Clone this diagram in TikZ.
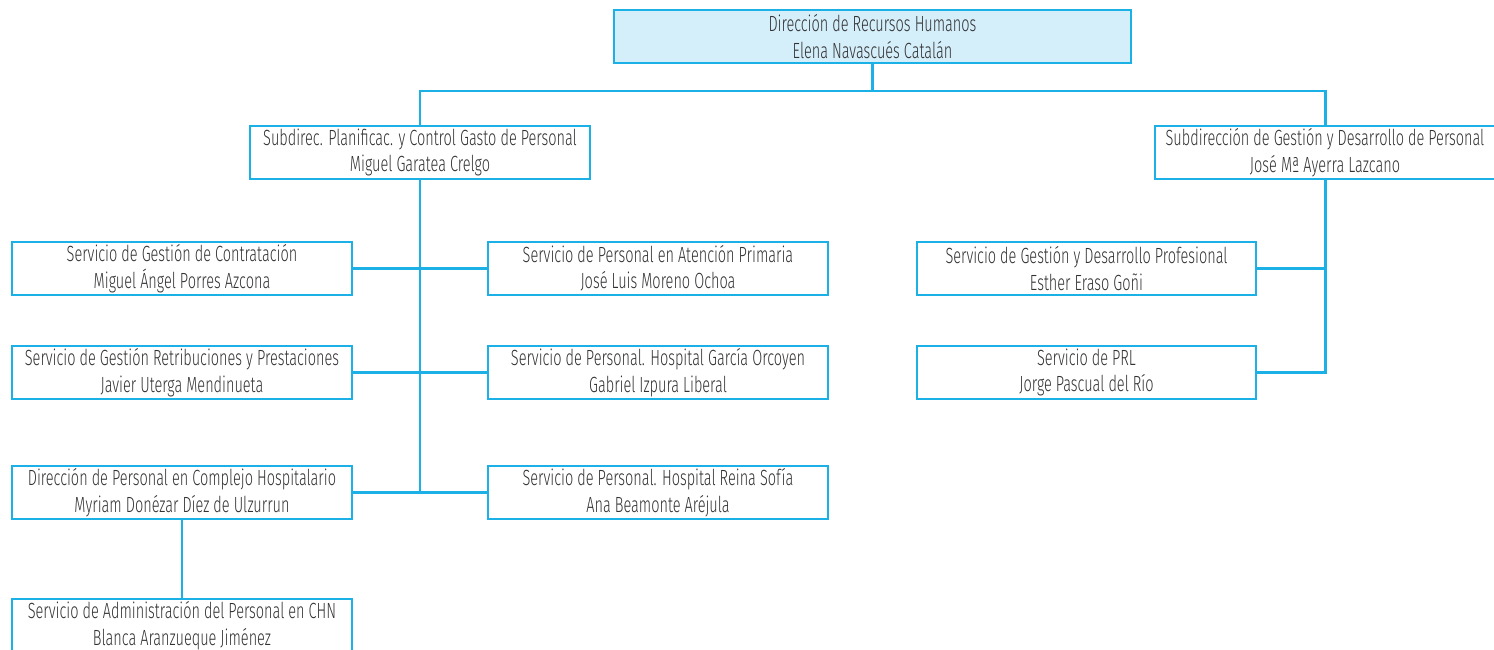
\documentclass[tikz,border=0pt]{standalone}
\usepackage{fontspec}
\setmainfont{Fira Sans Light}[FakeStretch=0.66]
\definecolor{hrblue}{RGB}{27,177,231}
\definecolor{hrfill}{RGB}{212,238,250}
\definecolor{hrtext}{RGB}{50,50,50}
\tikzset{
	unit/.style={draw=hrblue, line width=1.1pt, minimum width=6.8cm, minimum height=1.06cm, inner sep=0pt, align=center, text=hrtext, font=\fontsize{12.5}{15}\selectfont},
	link/.style={draw=hrblue, line width=1.7pt}
}
\begin{document}
\begin{tikzpicture}[x=0.02cm,y=-0.02cm]
	\useasboundingbox (0,0) rectangle (1494,649);
	\node[unit, fill=hrfill, minimum width=10.34cm] (dir) at (872.5,36.5) {Dirección de Recursos Humanos\\Elena Navascués Catalán};
	\coordinate (bus) at (872.5,91);
	\node[unit] (plan) at (420,152.5) {Subdirec. Planificac. y Control Gasto de Personal\\Miguel Garatea Crelgo};
	\node[unit] (gest) at (1325,152.5) {Subdirección de Gestión y Desarrollo de Personal\\José Mª Ayerra Lazcano};
	\node[unit] (cont) at (182,268.5) {Servicio de Gestión de Contratación\\Miguel Ángel Porres Azcona};
	\node[unit] (retr) at (182,372.5) {Servicio de Gestión Retribuciones y Prestaciones\\Javier Uterga Mendinueta};
	\node[unit] (chc) at (182,492.5) {Dirección de Personal en Complejo Hospitalario\\Myriam Donézar Díez de Ulzurrun};
	\node[unit] (chn) at (182,625.5) {Servicio de Administración del Personal en CHN\\Blanca Aranzueque Jiménez};
	\node[unit] (aprim) at (658,268.5) {Servicio de Personal en Atención Primaria\\José Luis Moreno Ochoa};
	\node[unit] (orco) at (658,372.5) {Servicio de Personal. Hospital García Orcoyen\\Gabriel Izpura Liberal};
	\node[unit] (sofia) at (658,492.5) {Servicio de Personal. Hospital Reina Sofía\\Ana Beamonte Aréjula};
	\node[unit, minimum width=6.78cm] (gdp) at (1086.5,268.5) {Servicio de Gestión y Desarrollo Profesional\\Esther Eraso Goñi};
	\node[unit, minimum width=6.78cm] (prl) at (1086.5,372.5) {Servicio de PRL\\Jorge Pascual del Río};
	\draw[link] (dir.south) -- (bus);
	\draw[link] (plan.north) -- (plan.north |- bus) -| (gest.north);
	\draw[link] (plan.south) -- (plan.south |- chc.east);
	\draw[link] (cont.east) -- (aprim.west);
	\draw[link] (retr.east) -- (orco.west);
	\draw[link] (chc.east) -- (sofia.west);
	\draw[link] (chc.south) -- (chn.north);
	\draw[link] (gest.south) |- (prl.east);
	\draw[link] (gdp.east) -- (gdp.east -| gest.south);
\end{tikzpicture}
\end{document}
